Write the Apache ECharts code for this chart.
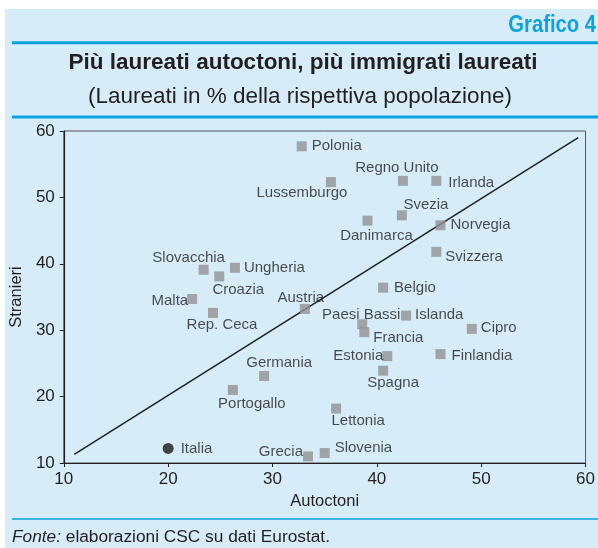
<!DOCTYPE html>
<html>
<head>
<meta charset="utf-8">
<script src="https://cdn.jsdelivr.net/npm/echarts@6/dist/echarts.min.js"></script>
<style>
html,body{margin:0;padding:0;background:#fff;}
#chart{width:598px;height:548px;}
</style>
</head>
<body>
<div id="chart"></div>
<script>
// ---- Data ----
const countries = ['Polonia','Lussemburgo','Regno Unito','Irlanda','Svezia','Danimarca','Norvegia','Svizzera','Belgio','Austria','Paesi Bassi','Francia','Islanda','Cipro','Finlandia','Estonia','Spagna','Lettonia','Slovenia','Grecia','Portogallo','Germania','Rep. Ceca','Malta','Slovacchia','Croazia','Ungheria'];
const autoctoni = [32.8,35.6,42.5,45.7,42.4,39.1,46.1,45.7,40.6,33.1,38.6,38.8,42.8,49.1,46.1,41.0,40.6,36.1,35.0,33.4,26.2,29.2,24.3,22.3,23.4,24.9,26.4];
const stranieri = [57.7,52.3,52.5,52.5,47.3,46.5,45.8,41.8,36.4,33.2,30.9,29.7,32.2,30.2,26.4,26.1,23.9,18.2,11.5,11.0,21.0,23.1,32.6,34.7,39.1,38.1,39.4];
const italia = {name:'Italia', autoctoni:20.0, stranieri:12.2};
const trendX = [11.0, 59.3];
const trendY = [11.3, 59.0];
const xTicks = [10,20,30,40,50,60];
const yTicks = [10,20,30,40,50,60];

// ---- label placement (style only) ----
const labelStyle = {
  'Polonia':{position:'right',distance:5},
  'Lussemburgo':{position:'inside',offset:[-29,11]},
  'Regno Unito':{position:'inside',offset:[-6,-13]},
  'Irlanda':{position:'right',distance:7,offset:[0,2]},
  'Svezia':{position:'inside',offset:[24,-10]},
  'Danimarca':{position:'inside',offset:[9,15]},
  'Norvegia':{position:'right',distance:5},
  'Svizzera':{position:'right',distance:4,offset:[0,5]},
  'Belgio':{position:'right',distance:6},
  'Austria':{position:'inside',offset:[-4,-11]},
  'Paesi Bassi':{position:'inside',offset:[-1,-9]},
  'Francia':{position:'inside',offset:[34,6]},
  'Islanda':{position:'right',distance:4,offset:[0,-1]},
  'Cipro':{position:'right',distance:4,offset:[0,-1]},
  'Finlandia':{position:'right',distance:6,offset:[0,2]},
  'Estonia':{position:'left',distance:-1},
  'Spagna':{position:'inside',offset:[10,12]},
  'Lettonia':{position:'inside',offset:[22,12]},
  'Slovenia':{position:'right',distance:5,offset:[0,-5]},
  'Grecia':{position:'left',distance:0,offset:[0,-5]},
  'Portogallo':{position:'inside',offset:[19,14]},
  'Germania':{position:'inside',offset:[15,-13]},
  'Rep. Ceca':{position:'inside',offset:[9,12]},
  'Malta':{position:'left',distance:-1,offset:[0,2]},
  'Slovacchia':{position:'inside',offset:[-15,-12]},
  'Croazia':{position:'inside',offset:[19,13]},
  'Ungheria':{position:'right',distance:4}
};

const TXT = '#231f20';
const BLUE = '#0aa2e0';
const BG = '#d6ecf8';
const SANS = '"Liberation Sans", Arial, Helvetica, sans-serif';

const scatterData = countries.map((c,i)=>({
  name:c,
  value:[autoctoni[i], stranieri[i]],
  label:Object.assign({show:true, formatter:c}, labelStyle[c])
}));

const chart = echarts.init(document.getElementById('chart'), null, {renderer:'canvas'});
chart.setOption({
  backgroundColor: BG,
  animation:false,
  graphic:[
    {type:'rect', shape:{x:0,y:0,width:598,height:9}, style:{fill:'#fff'}, silent:true},
    {type:'rect', shape:{x:0,y:0,width:5,height:548}, style:{fill:'#fff'}, silent:true},
    {type:'line', shape:{x1:12,y1:42.8,x2:598,y2:42.8}, style:{stroke:BLUE,lineWidth:3}},
    {type:'line', shape:{x1:12,y1:117,x2:598,y2:117}, style:{stroke:BLUE,lineWidth:3}},
    {type:'line', shape:{x1:12,y1:519,x2:598,y2:519}, style:{stroke:BLUE,lineWidth:1.5}},
    {type:'text', x:596, y:26, scaleX:0.88, style:{text:'Grafico 4', fill:BLUE, font:'bold 23px '+SANS, align:'right', verticalAlign:'middle'}},
    {type:'text', x:303, y:63, style:{text:'Più laureati autoctoni, più immigrati laureati', fill:TXT, font:'bold 22.5px '+SANS, align:'center', verticalAlign:'middle'}},
    {type:'text', x:300, y:97, style:{text:'(Laureati in % della rispettiva popolazione)', fill:TXT, font:'22.5px '+SANS, align:'center', verticalAlign:'middle'}},
    {type:'text', x:12, y:537, style:{
      text:'{i|Fonte:} elaborazioni CSC su dati Eurostat.',
      font:'17.3px '+SANS, fill:TXT, verticalAlign:'middle',
      rich:{i:{fontStyle:'italic', fontSize:17.3, fontFamily:SANS, fill:TXT, color:TXT}}
    }}
  ],
  grid:{left:61, top:131, width:529, height:332, show:true, borderColor:'#555', borderWidth:1, backgroundColor:'transparent'},
  xAxis:{
    type:'value', min:xTicks[0], max:xTicks[xTicks.length-1], interval:10,
    name:'Autoctoni', nameLocation:'middle', nameGap:30,
    nameTextStyle:{color:TXT, fontSize:16.5, fontFamily:SANS},
    axisLine:{lineStyle:{color:TXT,width:1.2}},
    axisTick:{show:true, inside:false, length:4, lineStyle:{color:TXT}},
    axisLabel:{color:TXT, fontSize:17, fontFamily:SANS, margin:8},
    splitLine:{show:false}
  },
  yAxis:{
    type:'value', min:yTicks[0], max:yTicks[yTicks.length-1], interval:10,
    name:'Stranieri', nameLocation:'middle', nameGap:36,
    nameTextStyle:{color:TXT, fontSize:16.5, fontFamily:SANS},
    axisLine:{show:true, lineStyle:{color:TXT,width:1.2}},
    axisTick:{show:true, inside:false, length:4, lineStyle:{color:TXT}},
    axisLabel:{color:TXT, fontSize:17, fontFamily:SANS, margin:9},
    splitLine:{show:false}
  },
  series:[
    {
      type:'line', data:trendX.map((x,i)=>[x,trendY[i]]), symbol:'none',
      lineStyle:{color:TXT,width:1.5}, silent:true, z:1
    },
    {
      type:'scatter', symbol:'rect', symbolSize:10,
      itemStyle:{color:'#929292'},
      label:{color:TXT, fontSize:15, fontFamily:SANS},
      data:scatterData, z:3
    },
    {
      type:'scatter', symbol:'circle', symbolSize:11,
      itemStyle:{color:'#1a1a1a'},
      label:{show:true, position:'right', distance:7, formatter:italia.name, color:TXT, fontSize:15, fontFamily:SANS},
      data:[[italia.autoctoni, italia.stranieri]], z:3
    }
  ]
});
</script>
</body>
</html>
